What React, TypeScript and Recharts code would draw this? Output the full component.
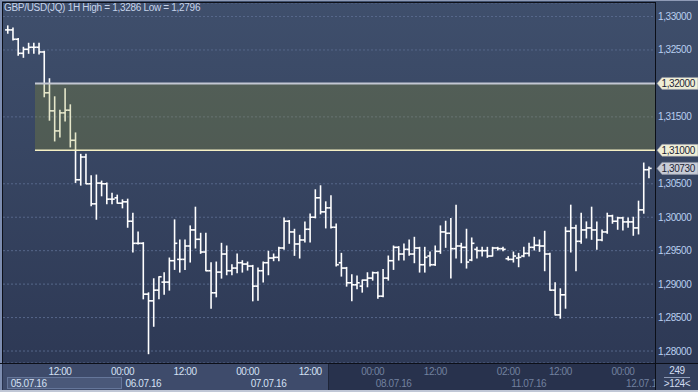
// GBP/USD 1H bar chart (OHLC) with a resistance zone
import React from "react";
import {
  ComposedChart,
  Bar,
  XAxis,
  YAxis,
  CartesianGrid,
  ReferenceArea,
  ReferenceLine,
} from "recharts";

// OHLC values, one per hour
const opens = [
  1.328, 1.328, 1.3266, 1.3245, 1.3251, 1.3254, 1.3254, 1.3247, 1.3186, 1.3159,
  1.3129, 1.3156, 1.316, 1.3115, 1.3056, 1.309, 1.305, 1.302, 1.3051, 1.305,
  1.3027, 1.3029, 1.3021, 1.3023, 1.2994, 1.2961, 1.2961, 1.2885, 1.2875, 1.2891,
  1.2903, 1.2903, 1.2935, 1.2937, 1.2937, 1.2957, 1.2981, 1.2967, 1.2948, 1.292,
  1.2887, 1.2918, 1.2945, 1.292, 1.2924, 1.2932, 1.293, 1.2927, 1.2897, 1.292,
  1.2932, 1.2939, 1.294, 1.2954, 1.2994, 1.2978, 1.296, 1.2966, 1.2982, 1.3,
  1.3029, 1.3008, 1.3014, 1.2985, 1.2932, 1.2924, 1.2902, 1.2899, 1.2897, 1.2906,
  1.2909, 1.2917, 1.2882, 1.2909, 1.2935, 1.2955, 1.2945, 1.2952, 1.2945, 1.2954,
  1.2929, 1.2942, 1.2929, 1.2949, 1.2978, 1.2976, 1.2953, 1.2957, 1.2955, 1.2936,
  1.2952, 1.295, 1.295, 1.2942, 1.2954, 1.2953, 1.2938, 1.2937, 1.2939, 1.2942,
  1.2946, 1.2955, 1.2958, 1.2957, 1.2945, 1.2891, 1.2854, 1.2884, 1.2979, 1.2984,
  1.2964, 1.2981, 1.2984, 1.2981, 1.2966, 1.2978, 1.3002, 1.2994, 1.2999, 1.2993,
  1.2993, 1.2984, 1.3011, 1.3071,
];
const highs = [
  1.3286, 1.3283, 1.3267, 1.3254, 1.326, 1.326, 1.326, 1.3248, 1.3207, 1.318,
  1.316, 1.3192, 1.3168, 1.3126, 1.3094, 1.3094, 1.3062, 1.3063, 1.3054, 1.3051,
  1.3036, 1.3033, 1.3026, 1.3027, 1.3006, 1.2978, 1.2962, 1.2887, 1.2908, 1.2911,
  1.2917, 1.2939, 1.2996, 1.2966, 1.2966, 1.2987, 1.3015, 1.2976, 1.2976, 1.2932,
  1.2933, 1.2961, 1.2957, 1.2929, 1.2945, 1.2935, 1.2933, 1.2928, 1.2924, 1.2933,
  1.2949, 1.2945, 1.2955, 1.2999, 1.2995, 1.2982, 1.2973, 1.2993, 1.3005, 1.3041,
  1.3047, 1.3023, 1.3032, 1.299, 1.2946, 1.2925, 1.2914, 1.2912, 1.2906, 1.2917,
  1.2918, 1.2918, 1.2922, 1.2942, 1.2957, 1.2956, 1.296, 1.2966, 1.297, 1.2955,
  1.2955, 1.2948, 1.2957, 1.2987, 1.2994, 1.2998, 1.3018, 1.2961, 1.2982, 1.2969,
  1.2955, 1.2955, 1.2955, 1.2955, 1.2955, 1.2955, 1.2941, 1.2948, 1.2946, 1.2955,
  1.2961, 1.297, 1.2966, 1.2979, 1.2946, 1.2902, 1.2893, 1.2985, 1.3018, 1.2988,
  1.3006, 1.2993, 1.3015, 1.2993, 1.2981, 1.3006, 1.3003, 1.3, 1.3, 1.2999,
  1.3, 1.3024, 1.3081, 1.3075,
];
const lows = [
  1.3275, 1.3265, 1.3242, 1.3239, 1.3245, 1.3245, 1.3244, 1.318, 1.3145, 1.3114,
  1.312, 1.3144, 1.3105, 1.3052, 1.3048, 1.305, 1.3017, 1.2997, 1.3032, 1.302,
  1.302, 1.3021, 1.3014, 1.2985, 1.2948, 1.296, 1.2878, 1.2796, 1.2837, 1.2878,
  1.2885, 1.2891, 1.2922, 1.2918, 1.2922, 1.2933, 1.2954, 1.2946, 1.292, 1.2864,
  1.2881, 1.2909, 1.2914, 1.2914, 1.2917, 1.2918, 1.2921, 1.2875, 1.2876, 1.2903,
  1.2914, 1.2935, 1.2935, 1.2952, 1.2961, 1.2943, 1.2939, 1.2963, 1.2963, 1.2999,
  1.3005, 1.2984, 1.2984, 1.2927, 1.2912, 1.2897, 1.2875, 1.2893, 1.2888, 1.2896,
  1.2906, 1.2879, 1.2881, 1.2906, 1.2922, 1.2936, 1.2936, 1.2943, 1.2932, 1.2918,
  1.2918, 1.2927, 1.2928, 1.2946, 1.2955, 1.2909, 1.2939, 1.2932, 1.2924, 1.2935,
  1.2939, 1.2942, 1.294, 1.2942, 1.2951, 1.295, 1.2936, 1.2933, 1.2926, 1.2941,
  1.2942, 1.2951, 1.2949, 1.292, 1.2891, 1.2854, 1.2849, 1.2864, 1.2948, 1.292,
  1.2961, 1.2969, 1.2967, 1.2952, 1.2965, 1.2976, 1.2991, 1.2982, 1.2981, 1.2985,
  1.2973, 1.2975, 1.3006, 1.3059,
];
const closes = [
  1.328, 1.3266, 1.3245, 1.3251, 1.3254, 1.3254, 1.3247, 1.3186, 1.3159, 1.3129,
  1.3156, 1.316, 1.3115, 1.3056, 1.309, 1.305, 1.302, 1.3051, 1.305, 1.3027,
  1.3027, 1.3021, 1.3023, 1.2994, 1.2961, 1.2961, 1.2885, 1.2875, 1.2891, 1.2911,
  1.2903, 1.2935, 1.2961, 1.2937, 1.2957, 1.2981, 1.2967, 1.2948, 1.292, 1.2887,
  1.2918, 1.2945, 1.292, 1.2924, 1.2932, 1.293, 1.2927, 1.2897, 1.292, 1.2932,
  1.2939, 1.294, 1.2954, 1.2994, 1.2978, 1.296, 1.2966, 1.2982, 1.3, 1.3029,
  1.3008, 1.3014, 1.2985, 1.2929, 1.2924, 1.2902, 1.2899, 1.2902, 1.2906, 1.2909,
  1.2917, 1.2882, 1.2909, 1.2935, 1.2955, 1.2945, 1.2952, 1.2945, 1.2954, 1.2929,
  1.294, 1.2929, 1.2949, 1.2978, 1.2976, 1.2953, 1.2957, 1.2955, 1.2933, 1.2961,
  1.295, 1.295, 1.2942, 1.2954, 1.2953, 1.2952, 1.2937, 1.2942, 1.294, 1.2946,
  1.2955, 1.2958, 1.2957, 1.2945, 1.2891, 1.2854, 1.2884, 1.2979, 1.2984, 1.2964,
  1.2981, 1.2984, 1.2981, 1.2966, 1.2978, 1.3002, 1.2994, 1.2999, 1.2993, 1.2993,
  1.2984, 1.3011, 1.3071, 1.3073,
];

// time axis (bar index -> label)
const timeTicks = [10, 22, 34, 46, 58, 70, 82, 96, 106, 118];
const timeLabels = ["12:00", "00:00", "12:00", "00:00", "12:00", "00:00", "12:00", "02:00", "12:00", "00:00"];
const dateTicks = [0, 22, 46, 70, 96, 118];
const dateLabels = ["05.07.16", "06.07.16", "07.07.16", "08.07.16", "11.07.16", "12.07.16"];
const windowEnd = 61.5; // end of the highlighted part of the time scale

// price axis
const priceTicks = [1.28, 1.285, 1.29, 1.295, 1.3, 1.305, 1.315, 1.325, 1.33];
const zoneTop = 1.32;
const zoneBottom = 1.31;
const zoneStart = 5.2;
const lastPrice = closes[closes.length - 1];

const xMin = -0.934;
const xMax = 124.14;
const yMin = 1.27821;
const yMax = 1.33202;

const data = opens.map((o, i) => ({
  i,
  open: o,
  high: highs[i],
  low: lows[i],
  close: closes[i],
  range: [lows[i], highs[i]],
}));

const FONT = "'Liberation Sans', Arial, sans-serif";
const fmt = (v: number) => v.toFixed(5).replace(".", ",");

function OhlcShape(props: any) {
  const { x, y, width, height, payload } = props;
  if (payload == null) return null;
  const cx = x + width / 2;
  const span = payload.high - payload.low || 1e-9;
  const yo = y + ((payload.high - payload.open) / span) * height;
  const yc = y + ((payload.high - payload.close) / span) * height;
  return (
    <g stroke="#ffffff" strokeWidth={1.6}>
      <line x1={cx} x2={cx} y1={y - 0.5} y2={y + height + 0.5} />
      <line x1={cx - 2.7} x2={cx} y1={yo} y2={yo} />
      <line x1={cx} x2={cx + 2.7} y1={yc} y2={yc} />
    </g>
  );
}

function XTick(props: any) {
  const { x, y, payload } = props;
  const v = payload.value;
  const ti = timeTicks.indexOf(v);
  const di = dateTicks.indexOf(v);
  const bright = v < windowEnd;
  return (
    <g fontFamily={FONT} fontSize={10} letterSpacing={-0.4}>
      {ti >= 0 && (
        <text x={x} y={y + 11.5} textAnchor="middle" fill={bright ? "#d4e0f4" : "#72819f"}>
          {timeLabels[ti]}
        </text>
      )}
      {di >= 0 && (
        <text x={x + 3} y={y + 24} textAnchor="start" fill={bright ? "#d4e0f4" : "#72819f"}>
          {dateLabels[di]}
        </text>
      )}
    </g>
  );
}

function YTick(props: any) {
  const { x, y, payload } = props;
  return (
    <text x={x + 3} y={y + 3.5} fill="#b9cff0" fontFamily={FONT} fontSize={10} letterSpacing={-0.4}>
      {fmt(payload.value)}
    </text>
  );
}

function PriceTag(props: any) {
  const { viewBox, value, bg } = props;
  if (!viewBox) return null;
  const x0 = viewBox.x + viewBox.width + 2;
  const yy = viewBox.y;
  return (
    <g>
      <path
        d={`M${x0},${yy} L${x0 + 5},${yy - 6} L${x0 + 41},${yy - 6} L${x0 + 41},${yy + 6} L${x0 + 5},${yy + 6} Z`}
        fill={bg}
        stroke="#8e94a4"
        strokeWidth={0.6}
      />
      <text x={x0 + 4.5} y={yy + 3.7} fill="#1d2536" fontFamily={FONT} fontSize={10} letterSpacing={-0.4}>
        {fmt(value)}
      </text>
    </g>
  );
}

export default function App() {
  const allTicks = Array.from(new Set([...dateTicks, ...timeTicks])).sort((a, b) => a - b);
  return (
    <div
      style={{
        position: "absolute",
        left: 0,
        top: 0,
        width: 698,
        height: 392,
        overflow: "hidden",
        background: "linear-gradient(#3f4f6c, #2c3753)",
        fontFamily: FONT,
      }}
    >
      {/* time scale background */}
      <div style={{ position: "absolute", left: 0, top: 363, width: 698, height: 29, background: "#28324d" }} />
      <div style={{ position: "absolute", left: 3, top: 364, width: 325, height: 26, background: "#3e4b6b" }} />
      <div
        style={{
          position: "absolute",
          left: 7,
          top: 377,
          width: 115,
          height: 12,
          background: "#4a5879",
          border: "1px solid #65769a",
          boxSizing: "border-box",
        }}
      />
      <div style={{ position: "absolute", left: 328, top: 364, width: 1, height: 26, background: "#1e2538" }} />

      <ComposedChart
        width={698}
        height={392}
        data={data}
        margin={{ top: 3, right: 0, left: 3, bottom: 0 }}
        style={{ position: "absolute", left: 0, top: 0 }}
      >
        <CartesianGrid
          stroke="#56678a"
          strokeDasharray="2 2"
          verticalCoordinatesGenerator={(p: any) =>
            p && p.xAxis && typeof p.xAxis.scale === "function" ? timeTicks.map((t) => p.xAxis.scale(t)) : []
          }
        />
        <XAxis
          dataKey="i"
          type="number"
          domain={[xMin, xMax]}
          allowDataOverflow
          ticks={allTicks}
          interval={0}
          height={29}
          tickSize={0}
          tickMargin={0}
          axisLine={false}
          tickLine={false}
          tick={<XTick />}
        />
        <YAxis
          orientation="right"
          type="number"
          domain={[yMin, yMax]}
          allowDataOverflow
          ticks={priceTicks}
          interval={0}
          width={43}
          tickSize={0}
          tickMargin={0}
          axisLine={false}
          tickLine={false}
          tick={<YTick />}
        />
        <Bar dataKey="range" barSize={5} shape={<OhlcShape />} isAnimationActive={false} />
        <ReferenceArea
          x1={zoneStart}
          x2={xMax}
          y1={zoneBottom}
          y2={zoneTop}
          fill="#969b28"
          fillOpacity={0.25}
          stroke="none"
          zIndex={600}
        />
        <ReferenceLine
          segment={[
            { x: zoneStart, y: zoneTop },
            { x: xMax, y: zoneTop },
          ]}
          stroke="#c3c7d3"
          strokeWidth={2}
          label={<PriceTag value={zoneTop} bg="#efeed6" />}
          zIndex={700}
        />
        <ReferenceLine
          segment={[
            { x: zoneStart, y: zoneBottom },
            { x: xMax, y: zoneBottom },
          ]}
          stroke="#f4efc4"
          strokeWidth={1.5}
          label={<PriceTag value={zoneBottom} bg="#efeed6" />}
          zIndex={700}
        />
        <ReferenceLine y={lastPrice} stroke="none" label={<PriceTag value={lastPrice} bg="#c8ccd6" />} zIndex={700} />
      </ComposedChart>

      {/* frame */}
      <div style={{ position: "absolute", left: 0, top: 0, width: 698, height: 1, background: "#8f9bb6" }} />
      <div style={{ position: "absolute", left: 0, top: 0, width: 2, height: 392, background: "#7d8db0" }} />
      <div style={{ position: "absolute", left: 2, top: 2, width: 653, height: 1, background: "#0c0f18" }} />
      <div style={{ position: "absolute", left: 2, top: 2, width: 1, height: 361, background: "#0c0f18" }} />
      <div style={{ position: "absolute", left: 0, top: 363, width: 698, height: 1, background: "#0c0f18" }} />
      <div style={{ position: "absolute", left: 655, top: 2, width: 1, height: 390, background: "#0c0f18" }} />
      <div style={{ position: "absolute", left: 0, top: 390, width: 698, height: 2, background: "#c0c7d6" }} />

      {/* bar counter box */}
      <div
        style={{
          position: "absolute",
          left: 656,
          top: 364,
          width: 42,
          height: 26,
          background: "#333f5c",
          color: "#d0dcf0",
          fontSize: 10,
          letterSpacing: -0.4,
          textAlign: "center",
          lineHeight: "13px",
        }}
      >
        <div>249</div>
        <div style={{ position: "absolute", left: 8, right: 8, top: 13, height: 1, background: "#8d9ab6" }} />
        <div>&gt;124&lt;</div>
      </div>

      {/* title */}
      <div
        style={{
          position: "absolute",
          left: 4,
          top: 2,
          color: "#c6d3ea",
          fontSize: 10,
          letterSpacing: -0.3,
          whiteSpace: "nowrap",
        }}
      >
        GBP/USD(JQ) 1H High = 1,3286 Low = 1,2796
      </div>
    </div>
  );
}
